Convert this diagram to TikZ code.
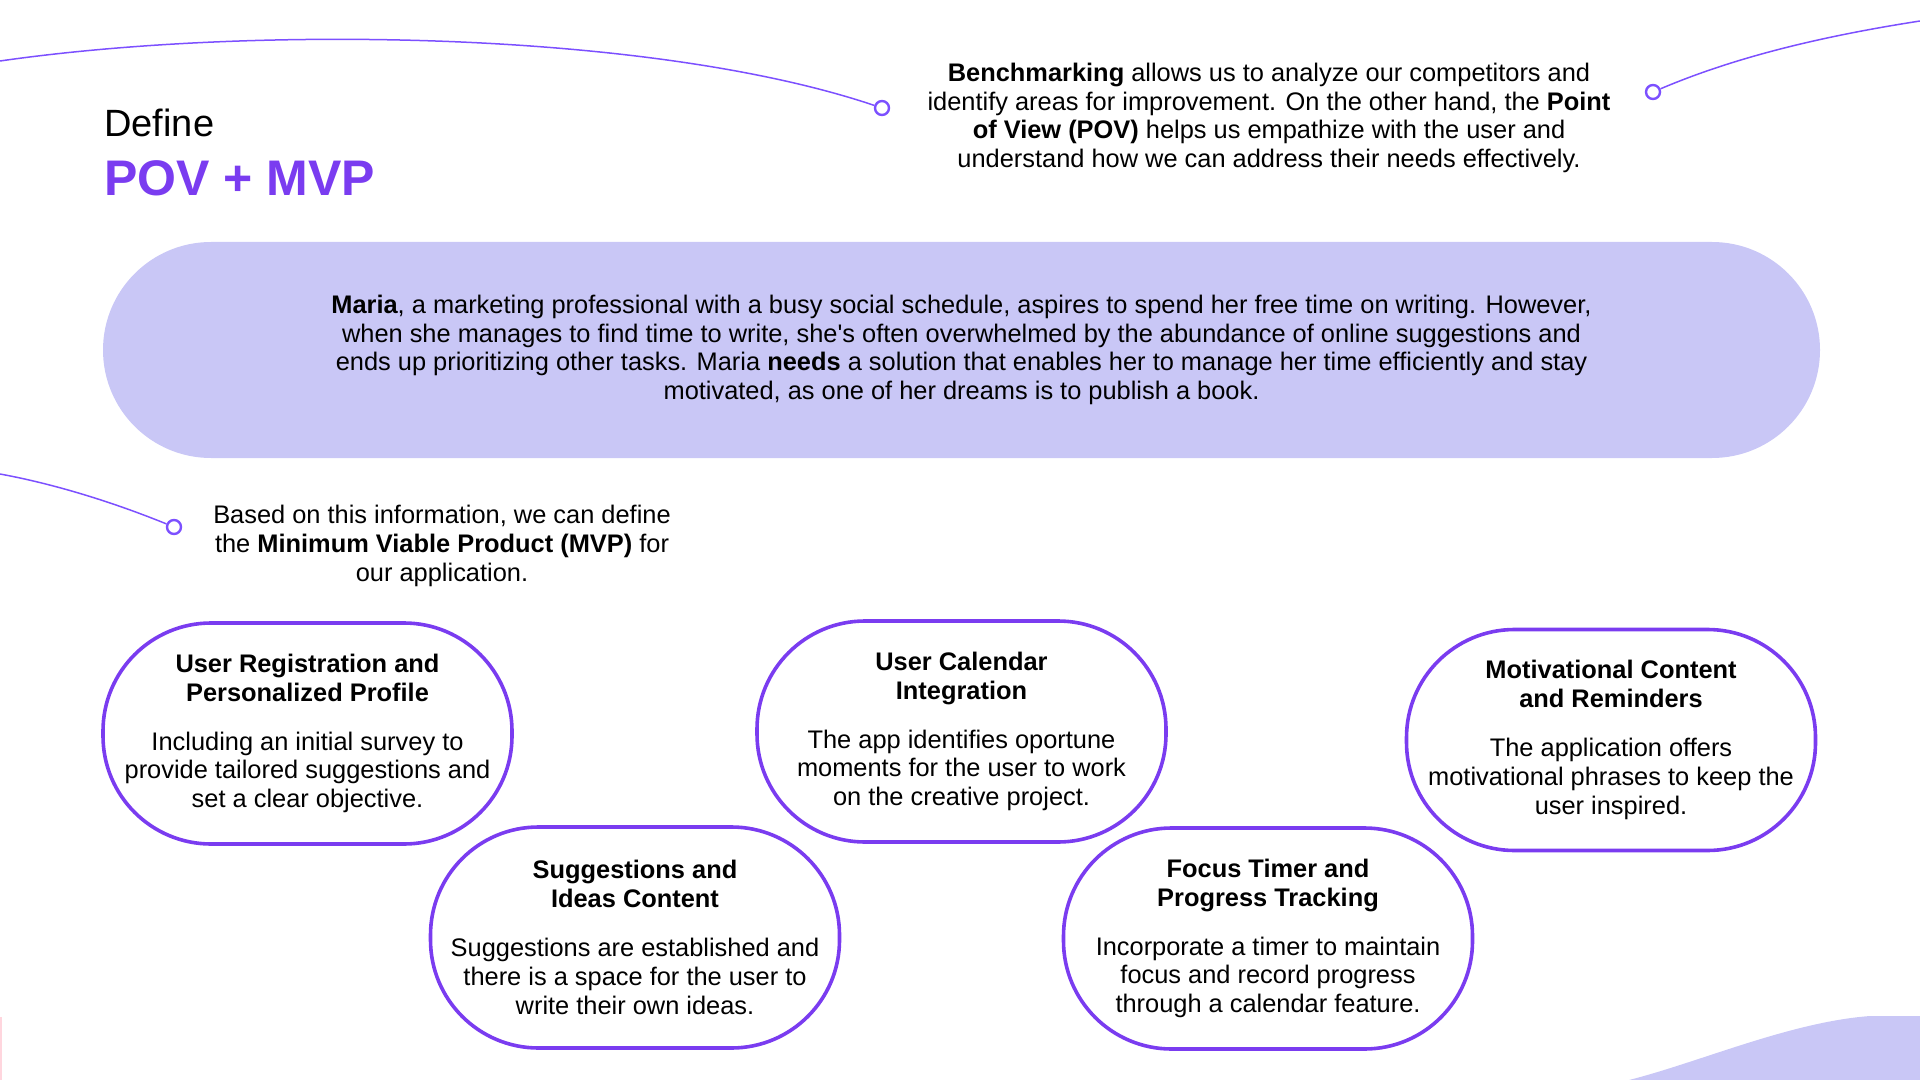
\documentclass[tikz,border=0pt]{standalone}
\usepackage{fontspec}
\setmainfont{Liberation Sans}[Ligatures=TeXOff]

\definecolor{w}{RGB}{255,255,255}
\definecolor{purp}{RGB}{122,60,240}
\definecolor{lilac}{RGB}{124,80,255}
\definecolor{lav}{RGB}{201,199,246}
\definecolor{blush}{RGB}{255,214,222}

\begin{document}
\begin{tikzpicture}[x=0.5pt, y=-0.5pt,
        card/.style={draw=purp, line width=1.8pt, fill=w, rounded corners=54pt, minimum width=204.5pt, minimum height=110.5pt, align=center, inner sep=0pt, font=\fontsize{12.7}{14.4}\selectfont},
        dot/.style={circle, draw=lilac, line width=1.2pt, fill=w, minimum size=7pt, inner sep=0pt},
        link/.style={draw=lilac, line width=0.75pt},
        txt/.style={align=center, inner sep=0pt, font=\fontsize{12.7}{14.4}\selectfont},
    ]

    \useasboundingbox (0,0) rectangle (1920,1080);

    \fill[lav] (1629,1080) .. controls (1700,1062) and (1790,1022) .. (1870,1016) -- (1920,1016) -- (1920,1080) -- cycle;
    \fill[blush] (0,1017) rectangle (2,1080);

    \coordinate (tl) at (0,61);
    \coordinate (tr) at (1920,21);
    \coordinate (ml) at (0,474);

    \node[dot] (d1) at (882,108) {};
    \node[dot] (d2) at (1653,92) {};
    \node[dot] (d3) at (174,527) {};

    \draw[link] (tl) .. controls (250,25) and (650,30) .. (d1);
    \draw[link] (d2) .. controls (1740,55) and (1830,35) .. (tr);
    \draw[link] (ml) .. controls (60,485) and (120,505) .. (d3);

    \node[anchor=base west, inner sep=0pt, font=\fontsize{19}{22}\selectfont] (define) at (104,137) {Define};
    \node[anchor=base west, inner sep=0pt, font=\fontsize{25}{30}\selectfont\bfseries, text=purp] (povmvp) at (104,196) {POV + MVP};

    \node[txt] (bench) at (1269,118) {\textbf{Benchmarking} allows us to analyze our competitors and\\ identify areas for improvement. On the other hand, the \textbf{Point}\\ \textbf{of View (POV)} helps us empathize with the user and\\ understand how we can address their needs effectively.};

    \node[txt, fill=lav, rounded corners=54pt, minimum width=858.5pt, minimum height=108pt] (pill) at (961.5,350) {\textbf{Maria}, a marketing professional with a busy social schedule, aspires to spend her free time on writing. However,\\ when she manages to find time to write, she's often overwhelmed by the abundance of online suggestions and\\ ends up prioritizing other tasks. Maria \textbf{needs} a solution that enables her to manage her time efficiently and stay\\ motivated, as one of her dreams is to publish a book.};

    \node[txt] (mvp) at (442,546) {Based on this information, we can define\\ the \textbf{Minimum Viable Product (MVP)} for\\ our application.};

    \node[card] (reg) at (307.5,733.5) {\textbf{User Registration and}\\ \textbf{Personalized Profile}\\[10pt] Including an initial survey to\\ provide tailored suggestions and\\ set a clear objective.};
    \node[card] (ideas) at (635,937.5) {\textbf{Suggestions and}\\ \textbf{Ideas Content}\\[10pt] Suggestions are established and\\ there is a space for the user to\\ write their own ideas.};
    \node[card] (calendar) at (961.5,731.5) {\textbf{User Calendar}\\ \textbf{Integration}\\[10pt] The app identifies oportune\\ moments for the user to work\\ on the creative project.};
    \node[card] (focus) at (1268,938.5) {\textbf{Focus Timer and}\\ \textbf{Progress Tracking}\\[10pt] Incorporate a timer to maintain\\ focus and record progress\\ through a calendar feature.};
    \node[card] (motiv) at (1611,740) {\textbf{Motivational Content}\\ \textbf{and Reminders}\\[10pt] The application offers\\ motivational phrases to keep the\\ user inspired.};
\end{tikzpicture}
\end{document}
